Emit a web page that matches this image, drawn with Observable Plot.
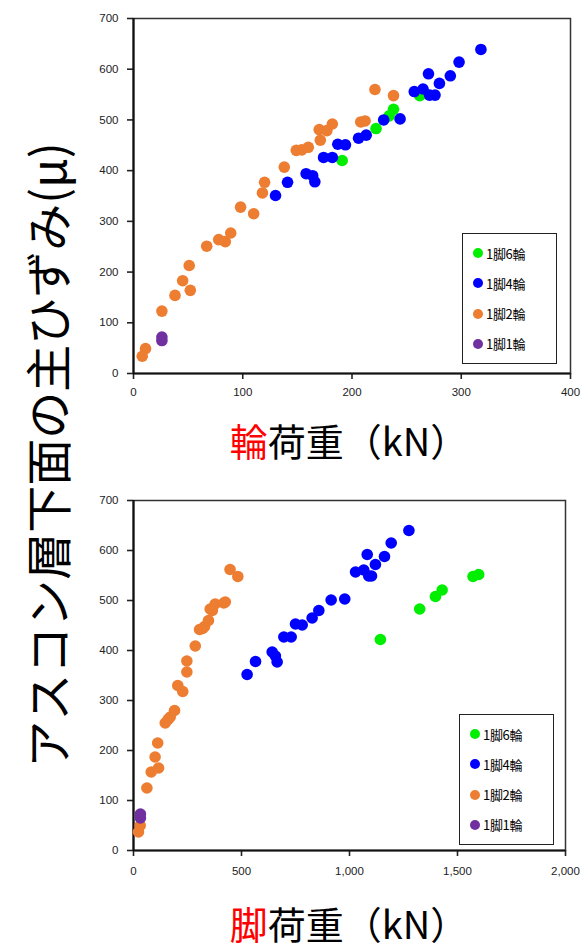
<!DOCTYPE html>
<html>
<head>
<meta charset="utf-8">
<script src="https://cdn.jsdelivr.net/npm/d3@7"></script>
<script src="https://cdn.jsdelivr.net/npm/@observablehq/plot@0.6"></script>
<style>
  body { margin: 0; background: #fff; }
  #root { position: relative; width: 586px; height: 951px; overflow: hidden; font-family: "Noto Sans CJK JP", "Noto Sans", sans-serif; color: #000; }
  .plotwrap { position: absolute; left: 0; }
  .xlabel { position: absolute; left: 0; width: 586px; padding-left: 112px; box-sizing: border-box; text-align: center; font-size: 38px; line-height: 1.05; white-space: nowrap; }
  .xlabel .red { color: #ff0000; }
  .ylabel { position: absolute; left: 45px; top: 455px; transform: translate(-50%, -50%) rotate(-90deg); font-size: 47px; line-height: 1; white-space: nowrap; }
  .legend { position: absolute; width: 95px; height: 131px; box-sizing: border-box; border: 1.5px solid #222; background: #fff; display: flex; flex-direction: column; justify-content: space-around; padding: 4px 0 4px 9px; }
  .legend .item { display: flex; align-items: center; font-size: 13px; line-height: 1; letter-spacing: -0.3px; }
  .legend svg { margin-right: 2px; }
</style>
</head>
<body>
<div id="root"></div>
<script>
// ---- series ----
const seriesNames = ["1脚6輪", "1脚4輪", "1脚2輪", "1脚1輪"];
const seriesColors = ["#00ee00", "#0000ff", "#ed7d31", "#7030a0"];

// ---- axis ticks ----
const yTicks = [0, 100, 200, 300, 400, 500, 600, 700];
const wheelTicks = [0, 100, 200, 300, 400];
const legTicks = [0, 500, 1000, 1500, 2000];

// ---- top chart: wheel load (kN) vs strain (μ) ----
const wheel6Load = [191, 222, 234, 238, 262, 266];
const wheel6Strain = [420, 483, 508, 521, 548, 552];

const wheel4Load = [130, 141, 158, 164, 166, 174, 182, 187, 194, 206, 213, 229, 244, 257, 265, 271, 276, 270, 280, 290, 298, 318];
const wheel4Strain = [351, 377, 394, 390, 378, 426, 426, 452, 451, 464, 470, 500, 502, 556, 561, 549, 549, 591, 572, 587, 614, 639];

const wheel2Load = [8, 11, 26, 38, 45, 52, 51, 67, 78, 84, 89, 98, 110, 118, 120, 138, 149, 154, 160, 171, 170, 177, 182, 208, 212, 221, 238];
const wheel2Strain = [34, 49, 123, 154, 183, 164, 213, 251, 264, 260, 277, 328, 315, 356, 377, 407, 440, 441, 446, 460, 481, 479, 492, 496, 498, 560, 548];

const wheel1Load = [26, 26];
const wheel1Strain = [65, 72];

// ---- bottom chart: leg load (kN) vs strain (μ) ----
const leg6Load = [1143, 1325, 1398, 1429, 1572, 1598];
const leg6Strain = [422, 483, 508, 521, 548, 552];

const leg4Load = [526, 565, 642, 657, 665, 696, 730, 750, 781, 827, 858, 915, 978, 1028, 1066, 1089, 1102, 1082, 1120, 1162, 1193, 1275];
const leg4Strain = [352, 378, 397, 389, 377, 427, 427, 453, 451, 465, 480, 501, 503, 557, 561, 549, 549, 592, 572, 588, 615, 640];

const leg2Load = [23, 31, 62, 82, 116, 100, 112, 147, 160, 170, 190, 205, 228, 247, 247, 286, 306, 320, 329, 347, 355, 365, 378, 418, 425, 447, 483];
const leg2Strain = [37, 50, 125, 157, 165, 187, 215, 255, 262, 267, 280, 330, 318, 357, 379, 409, 442, 444, 448, 460, 483, 480, 493, 495, 497, 562, 548];

const leg1Load = [32, 32];
const leg1Strain = [65, 73];

function rows(xs, ys, s) { return xs.map((x, i) => ({ x, y: ys[i], s })); }

const wheelData = [
  ...rows(wheel6Load, wheel6Strain, seriesNames[0]),
  ...rows(wheel4Load, wheel4Strain, seriesNames[1]),
  ...rows(wheel2Load, wheel2Strain, seriesNames[2]),
  ...rows(wheel1Load, wheel1Strain, seriesNames[3])
];
const legData = [
  ...rows(leg6Load, leg6Strain, seriesNames[0]),
  ...rows(leg4Load, leg4Strain, seriesNames[1]),
  ...rows(leg2Load, leg2Strain, seriesNames[2]),
  ...rows(leg1Load, leg1Strain, seriesNames[3])
];

function makeChart(data, xTicks, xFmt, m) {
  return Plot.plot({
    width: 586,
    height: 400,
    marginLeft: 133,
    marginRight: m.right,
    marginTop: m.top,
    marginBottom: m.bottom,
    style: { fontFamily: "'Liberation Sans', 'DejaVu Sans', sans-serif", fontSize: "11.5px", color: "#222", background: "#fff", overflow: "visible" },
    x: { domain: [xTicks[0], xTicks[xTicks.length - 1]], label: null },
    y: { domain: [0, 700], label: null },
    color: { domain: seriesNames, range: seriesColors },
    marks: [
      Plot.frame({ stroke: "#333", strokeWidth: 1.5 }),
      Plot.axisY({ ticks: yTicks, tickSize: 6, tickPadding: 9, strokeWidth: 1.6, label: null }),
      Plot.axisX({ ticks: xTicks, tickFormat: xFmt, tickSize: 6, tickPadding: m.xpad, strokeWidth: 1.6, label: null }),
      Plot.ruleX([xTicks[0]], { stroke: "#111", strokeWidth: 2.2 }),
      Plot.ruleY([0], { stroke: "#111", strokeWidth: 2.2 }),
      Plot.dot(data, { x: "x", y: "y", fill: "s", r: 5.8 })
    ]
  });
}

const root = document.getElementById("root");

function addPlot(svg, top) {
  const w = document.createElement("div");
  w.className = "plotwrap";
  w.style.top = top + "px";
  w.appendChild(svg);
  root.appendChild(w);
}

function addLegend(left, top) {
  const lg = document.createElement("div");
  lg.className = "legend";
  lg.style.left = left + "px";
  lg.style.top = top + "px";
  seriesNames.forEach((n, i) => {
    const it = document.createElement("div");
    it.className = "item";
    it.innerHTML = `<svg width="12" height="12"><circle cx="6" cy="6" r="5" fill="${seriesColors[i]}"></circle></svg><span>${n}</span>`;
    lg.appendChild(it);
  });
  root.appendChild(lg);
}

function addXLabel(redChar, rest, top) {
  const d = document.createElement("div");
  d.className = "xlabel";
  d.style.top = top + "px";
  d.innerHTML = `<span class="red">${redChar}</span>${rest}`;
  root.appendChild(d);
}

addPlot(makeChart(wheelData, wheelTicks, d3.format("d"), { right: 16, top: 18, bottom: 27, xpad: 8 }), 0);
addPlot(makeChart(legData, legTicks, d3.format(","), { right: 21, top: 20, bottom: 30, xpad: 10 }), 480);

addLegend(462, 233);
addLegend(459, 714);

addXLabel("輪", "荷重（kN）", 420);
addXLabel("脚", "荷重（kN）", 903);

const yl = document.createElement("div");
yl.className = "ylabel";
yl.textContent = "アスコン層下面の主ひずみ(μ)";
root.appendChild(yl);
</script>
</body>
</html>
